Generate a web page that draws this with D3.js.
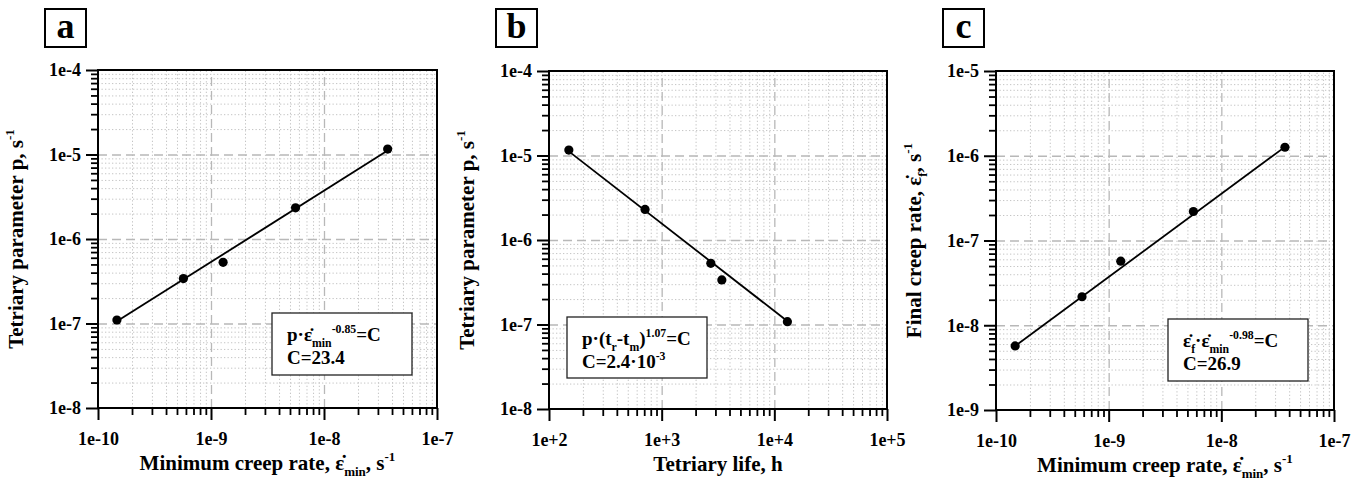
<!DOCTYPE html>
<html>
<head>
<meta charset="utf-8">
<script src="https://cdn.jsdelivr.net/npm/d3@7"></script>
<style>
  body { margin: 0; background: #fff; }
  svg text { font-family: "Liberation Serif", "Times New Roman", serif; font-weight: bold; fill: #000; }
</style>
</head>
<body>
<svg width="1367" height="492"></svg>
<script>
var svg = d3.select('svg');

// data
var xA = [1.47e-10, 5.7e-10, 1.28e-9, 5.6e-9, 3.66e-8];
var yA = [1.1e-7, 3.4e-7, 5.3e-7, 2.34e-6, 1.16e-5];
var fitAx = [1.47e-10, 3.6e-8];
var fitAy = [1.06e-7, 1.1e-5];

var xB = [150, 712, 2730, 3420, 13060];
var yB = [1.16e-5, 2.3e-6, 5.3e-7, 3.37e-7, 1.08e-7];
var fitBx = [150, 13000];
var fitBy = [1.12e-5, 1.1e-7];

var xC = [1.48e-10, 5.8e-10, 1.28e-9, 5.65e-9, 3.67e-8];
var yC = [5.7e-9, 2.17e-8, 5.7e-8, 2.2e-7, 1.26e-6];
var fitCx = [1.48e-10, 3.55e-8];
var fitCy = [5.7e-9, 1.23e-6];

var eps = '\u03B5\u0307';

// panel layouts
var panels = [
  { tag: 'a', left: 98, right: 437, top: 70, bottom: 408,
    xDom: [1e-10, 1e-7], yDom: [1e-8, 1e-4], xs: xA, ys: yA, fx: fitAx, fy: fitAy,
    ytitle: [['Tetriary parameter p, s', 'n'], ['-1', 'sup']],
    xtitle: [['Minimum creep rate, ' + eps, 'n'], ['min', 'sub'], [', s', 'n'], ['-1', 'sup']],
    box: [272, 313, 140, 62],
    lines: [
      [['p\u00B7' + eps, 'n'], ['min', 'sub'], ['-0.85', 'sup'], ['=C', 'n']],
      [['C=23.4', 'n']]
    ] },
  { tag: 'b', left: 549, right: 887, top: 71, bottom: 409,
    xDom: [1e2, 1e5], yDom: [1e-8, 1e-4], xs: xB, ys: yB, fx: fitBx, fy: fitBy,
    ytitle: [['Tetriary parameter p, s', 'n'], ['-1', 'sup']],
    xtitle: [['Tetriary life, h', 'n']],
    box: [567, 317, 140, 61],
    lines: [
      [['p\u00B7(t', 'n'], ['r', 'sub'], ['-t', 'n'], ['m', 'sub'], [')', 'n'], ['1.07', 'sup'], ['=C', 'n']],
      [['C=2.4\u00B710', 'n'], ['-3', 'sup']]
    ] },
  { tag: 'c', left: 996, right: 1334, top: 71, bottom: 410,
    xDom: [1e-10, 1e-7], yDom: [1e-9, 1e-5], xs: xC, ys: yC, fx: fitCx, fy: fitCy,
    ytitle: [['Final creep rate, ' + eps, 'n'], ['f', 'sub'], [', s', 'n'], ['-1', 'sup']],
    xtitle: [['Minimum creep rate, ' + eps, 'n'], ['min', 'sub'], [', s', 'n'], ['-1', 'sup']],
    box: [1168, 319, 140, 62],
    lines: [
      [[eps, 'n'], ['f', 'sub'], ['\u00B7' + eps, 'n'], ['min', 'sub'], ['-0.98', 'sup'], ['=C', 'n']],
      [['C=26.9', 'n']]
    ] }
];

// text with sub/superscripts
function rich(sel, parts, size) {
  var cur = 0;
  parts.forEach(function(p) {
    var target = p[1] == 'sub' ? 0.3 * size : (p[1] == 'sup' ? -0.42 * size : 0);
    sel.append('tspan')
      .attr('dy', target - cur)
      .style('font-size', (p[1] == 'n' ? size : size * 0.62) + 'px')
      .text(p[0]);
    cur = target;
  });
}

function decades(dom) {
  var a = Math.round(Math.log10(dom[0])), b = Math.round(Math.log10(dom[1]));
  var out = [];
  for (var e = a; e <= b; e++) out.push(Math.pow(10, e));
  return out;
}
function minors(dom) {
  var out = [];
  decades(dom).slice(0, -1).forEach(function(d) {
    for (var k = 2; k <= 9; k++) out.push(k * d);
  });
  return out;
}
function fmt(v) {
  var e = Math.round(Math.log10(v));
  return '1e' + (e >= 0 ? '+' + e : e);
}

panels.forEach(function(p) {
  var w = p.right - p.left, h = p.bottom - p.top;
  var x = d3.scaleLog().domain(p.xDom).range([0, w]);
  var y = d3.scaleLog().domain(p.yDom).range([h, 0]);
  var g = svg.append('g').attr('transform', 'translate(' + p.left + ',' + p.top + ')');

  // minor grid (dotted)
  g.append('g').attr('class', 'grid')
    .attr('transform', 'translate(0,' + h + ')')
    .call(d3.axisBottom(x).tickValues(minors(p.xDom)).tickSize(-h).tickFormat(''))
    .call(function(s) { s.select('.domain').remove(); });
  g.append('g').attr('class', 'grid')
    .call(d3.axisLeft(y).tickValues(minors(p.yDom)).tickSize(-w).tickFormat(''))
    .call(function(s) { s.select('.domain').remove(); });
  g.selectAll('.grid line').attr('stroke', '#c4c4c4').attr('stroke-width', 1).attr('stroke-dasharray', '1.3,2.2');

  // major grid (dashed)
  g.append('g').attr('class', 'mgrid')
    .attr('transform', 'translate(0,' + h + ')')
    .call(d3.axisBottom(x).tickValues(decades(p.xDom).slice(1, -1)).tickSize(-h).tickFormat(''))
    .call(function(s) { s.select('.domain').remove(); });
  g.append('g').attr('class', 'mgrid')
    .call(d3.axisLeft(y).tickValues(decades(p.yDom).slice(1, -1)).tickSize(-w).tickFormat(''))
    .call(function(s) { s.select('.domain').remove(); });
  g.selectAll('.mgrid line').attr('stroke', '#b8b8b8').attr('stroke-width', 1.3).attr('stroke-dasharray', '9,5');

  // frame
  g.append('rect').attr('width', w).attr('height', h)
    .attr('fill', 'none').attr('stroke', '#000').attr('stroke-width', 2);

  // minor ticks
  g.append('g').attr('transform', 'translate(0,' + h + ')')
    .call(d3.axisBottom(x).tickValues(minors(p.xDom)).tickSize(7).tickFormat(''))
    .call(function(s) { s.select('.domain').remove(); s.selectAll('line').attr('stroke-width', 1.8); });
  g.append('g')
    .call(d3.axisLeft(y).tickValues(minors(p.yDom)).tickSize(7).tickFormat(''))
    .call(function(s) { s.select('.domain').remove(); s.selectAll('line').attr('stroke-width', 1.8); });

  // major ticks + labels
  var xa = g.append('g').attr('transform', 'translate(0,' + h + ')')
    .call(d3.axisBottom(x).tickValues(decades(p.xDom)).tickSize(12).tickPadding(12).tickFormat(fmt));
  var ya = g.append('g')
    .call(d3.axisLeft(y).tickValues(decades(p.yDom)).tickSize(12).tickPadding(5).tickFormat(fmt));
  [xa, ya].forEach(function(a) {
    a.select('.domain').remove();
    a.selectAll('line').attr('stroke', '#000').attr('stroke-width', 2);
    a.selectAll('text').style('font-size', '18px').style('font-family', '"Liberation Serif", serif').style('font-weight', 'bold');
  });

  // fit line
  var line = d3.line().x(function(d) { return x(d[0]); }).y(function(d) { return y(d[1]); });
  g.append('path')
    .datum(d3.zip(p.fx, p.fy))
    .attr('d', line)
    .attr('fill', 'none').attr('stroke', '#000').attr('stroke-width', 1.8);

  // points
  g.selectAll('circle.pt')
    .data(d3.zip(p.xs, p.ys))
    .enter()
    .append('circle')
    .attr('class', 'pt')
    .attr('cx', function(d) { return x(d[0]); })
    .attr('cy', function(d) { return y(d[1]); })
    .attr('r', 4.6)
    .attr('fill', '#000');

  // equation box
  var b = p.box;
  svg.append('rect').attr('x', b[0]).attr('y', b[1]).attr('width', b[2]).attr('height', b[3])
    .attr('fill', '#fff').attr('stroke', '#222').attr('stroke-width', 1.3);
  p.lines.forEach(function(l, i) {
    var t = svg.append('text').attr('x', b[0] + 15).attr('y', b[1] + 28 + i * 23);
    rich(t, l, 19);
  });

  // axis titles
  var xt = svg.append('text')
    .attr('x', p.left + w / 2).attr('y', p.top + h + 62)
    .attr('text-anchor', 'middle');
  rich(xt, p.xtitle, 21);
  var yt = svg.append('text')
    .attr('transform', 'translate(' + (p.left - 75) + ',' + (p.top + h / 2) + ')rotate(-90)')
    .attr('text-anchor', 'middle');
  rich(yt, p.ytitle, 21);

  // panel tag
  var tx = p.left - 53;
  svg.append('rect').attr('x', tx).attr('y', 9).attr('width', 41).attr('height', 38)
    .attr('fill', '#fff').attr('stroke', '#000').attr('stroke-width', 2);
  svg.append('text').attr('x', tx + 20.5).attr('y', 38)
    .attr('text-anchor', 'middle')
    .style('font-size', '36px')
    .text(p.tag);
});
</script>
</body>
</html>
